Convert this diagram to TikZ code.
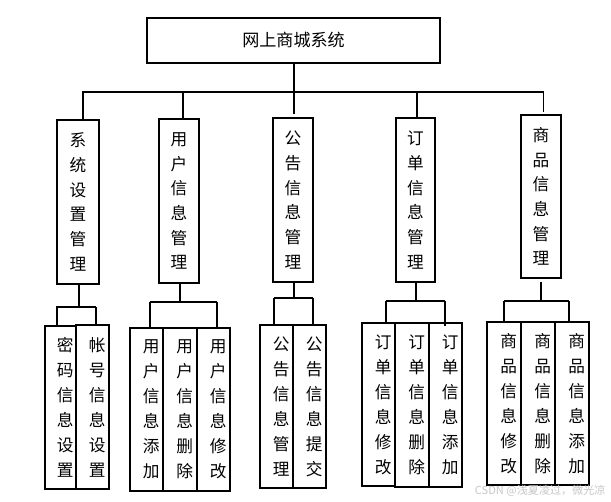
\documentclass[tikz,border=0pt]{standalone}
\usepackage{fontspec}
\newfontfamily\cjk{Noto Sans CJK SC}
\begin{document}
\begin{tikzpicture}[x=0.75pt,y=-0.75pt,
  every path/.style={line width=0.9pt},
  topbox/.style={draw, line width=1pt, inner sep=0pt, minimum width=293*0.75pt, minimum height=45*0.75pt, font=\cjk\fontsize{12.8}{15}\selectfont},
  midbox/.style={draw, line width=1pt, inner sep=0pt, align=center, minimum width=#1*0.75pt, minimum height=164*0.75pt, font=\cjk\fontsize{12.5}{18.5}\selectfont},
  leafbox/.style={draw, line width=1pt, inner sep=0pt, align=center, minimum width=#1*0.75pt, minimum height=163*0.75pt, font=\cjk\fontsize{12.5}{18.75}\selectfont},
  conn/.style={line width=0.9pt},
  wm/.style={text=black!22, font=\cjk\fontsize{8.3}{10}\selectfont, inner sep=0pt}
]
\useasboundingbox (0,0) rectangle (611,501);
\fill[white] (0,0) rectangle (611,501);

% top
\node[topbox] (top) at (293.5,40.5) {网上商城系统};

% level 2
\node[midbox=42] (s1) at (78,202) {系\\统\\设\\置\\管\\理};
\node[midbox=40] (s2) at (179,201) {用\\户\\信\\息\\管\\理};
\node[midbox=40] (s3) at (293,200) {公\\告\\信\\息\\管\\理};
\node[midbox=39] (s4) at (415.5,200) {订\\单\\信\\息\\管\\理};
\node[midbox=40,minimum height=163*0.75pt] (s5) at (541,196.5) {商\\品\\信\\息\\管\\理};

% bus
\coordinate (bus0) at (294,92);
\coordinate (b1) at (83,92);
\coordinate (b2) at (183,92);
\coordinate (b3) at (294,92);
\coordinate (b4) at (417,92);
\coordinate (b5) at (543.5,92);
\draw[conn] (top.south -| bus0) -- (bus0);
\draw[conn] (82,92) -- (b5);
\draw[conn] (b1) -- (b1 |- s1.north);
\draw[conn] (b2) -- (b2 |- s2.north);
\draw[conn,shorten >=2.25pt] (b3) -- (b3 |- s3.north);
\draw[conn] (b4) -- (b4 |- s4.north);
\draw[conn,shorten >=1.5pt] (b5) -- (b5 |- s5.north);

% level 3 leaves
\newcommand{\lf}[1]{\kern7pt#1}
\node[leafbox=31] (a1) at (60.5,407.5) {\lf{密}\\\lf{码}\\\lf{信}\\\lf{息}\\\lf{设}\\\lf{置}};
\node[leafbox=33,minimum height=164*0.75pt] (a2) at (92.5,407) {\lf{帐}\\\lf{号}\\\lf{信}\\\lf{息}\\\lf{设}\\\lf{置}};

\node[leafbox=33] (u1) at (146.5,409.5) {\lf{用}\\\lf{户}\\\lf{信}\\\lf{息}\\\lf{添}\\\lf{加}};
\node[leafbox=34] (u2) at (180,409.5) {\lf{用}\\\lf{户}\\\lf{信}\\\lf{息}\\\lf{删}\\\lf{除}};
\node[leafbox=33] (u3) at (213.5,409.5) {\lf{用}\\\lf{户}\\\lf{信}\\\lf{息}\\\lf{修}\\\lf{改}};

\node[leafbox=33] (n1) at (276.5,406.5) {\lf{公}\\\lf{告}\\\lf{信}\\\lf{息}\\\lf{管}\\\lf{理}};
\node[leafbox=33] (n2) at (309.5,406.5) {\lf{公}\\\lf{告}\\\lf{信}\\\lf{息}\\\lf{提}\\\lf{交}};

\node[leafbox=33] (o1) at (378.5,404.5) {\lf{订}\\\lf{单}\\\lf{信}\\\lf{息}\\\lf{修}\\\lf{改}};
\node[leafbox=34,minimum height=164*0.75pt] (o2) at (412,405) {\lf{订}\\\lf{单}\\\lf{信}\\\lf{息}\\\lf{删}\\\lf{除}};
\node[leafbox=33,minimum height=164*0.75pt] (o3) at (445.5,405) {\lf{订}\\\lf{单}\\\lf{信}\\\lf{息}\\\lf{添}\\\lf{加}};

\node[leafbox=34] (g1) at (504,403.5) {\lf{商}\\\lf{品}\\\lf{信}\\\lf{息}\\\lf{修}\\\lf{改}};
\node[leafbox=34] (g2) at (538,403.5) {\lf{商}\\\lf{品}\\\lf{信}\\\lf{息}\\\lf{删}\\\lf{除}};
\node[leafbox=34] (g3) at (572,403.5) {\lf{商}\\\lf{品}\\\lf{信}\\\lf{息}\\\lf{添}\\\lf{加}};

% group 1
\coordinate (j1) at (79,307);
\coordinate (j1l) at (57,307);
\coordinate (j1r) at (96,307);
\draw[conn] (s1.south -| j1) -- (j1);
\draw[conn] (j1l) -- (j1r);
\draw[conn] (57,306) -- (j1l |- a1.north);
\draw[conn] (j1r) -- (j1r |- a2.north);

% group 2
\coordinate (j2) at (180,302);
\coordinate (j2l) at (150,302);
\coordinate (j2r) at (217,302);
\draw[conn] (s2.south -| j2) -- (j2);
\draw[conn] (j2l) -- (j2r);
\draw[conn] (j2l) -- (j2l |- u1.north);
\draw[conn] (j2r) -- (j2r |- u3.north);

% group 3
\coordinate (j3) at (294,298);
\coordinate (j3l) at (274,298);
\coordinate (j3r) at (313,298);
\draw[conn] (s3.south -| j3) -- (j3);
\draw[conn] (j3l) -- (j3r);
\draw[conn] (j3l) -- (j3l |- n1.north);
\draw[conn] (j3r) -- (j3r |- n2.north);

% group 4
\coordinate (j4) at (416,301);
\coordinate (j4l) at (386,301);
\coordinate (j4r) at (445,301);
\draw[conn] (s4.south -| j4) -- (j4);
\draw[conn] (j4l) -- (j4r);
\draw[conn] (j4l) -- (j4l |- o1.north);
\draw[conn] (j4r) -- (445,326);

% group 5
\coordinate (j5) at (541,301);
\coordinate (j5l) at (504,301);
\coordinate (j5r) at (569,301);
\draw[conn,shorten <=2.25pt] (s5.south -| j5) -- (j5);
\draw[conn] (j5l) -- (j5r);
\draw[conn] (j5l) -- (j5l |- g1.north);
\draw[conn] (j5r) -- (j5r |- g3.north);

% watermark
\node[wm,anchor=east] (wmk) at (606,491) {CSDN @浅夏凌过，微光凉};
\end{tikzpicture}
\end{document}
